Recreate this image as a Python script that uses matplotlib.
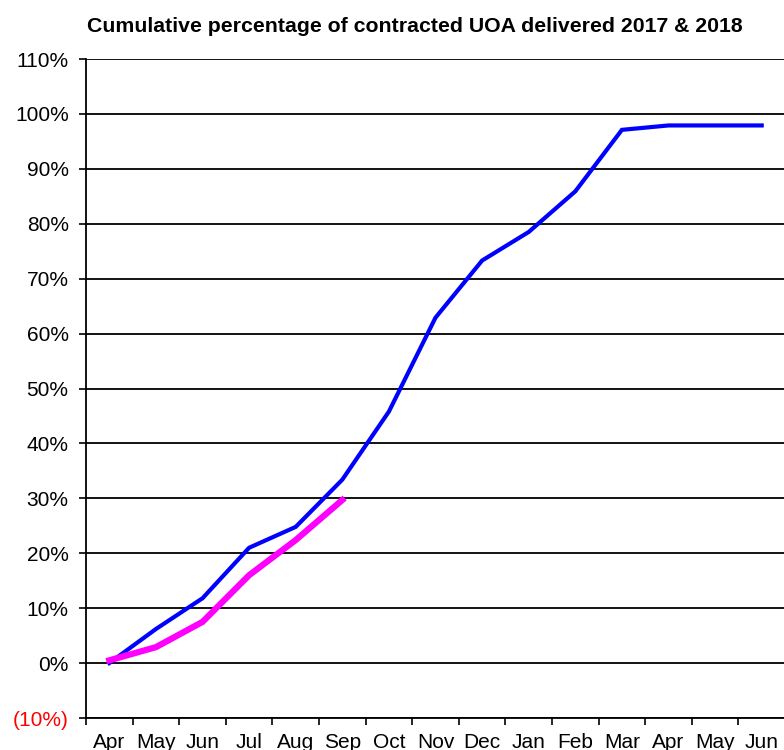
import matplotlib
matplotlib.use("Agg")
import matplotlib.pyplot as plt
from matplotlib.transforms import ScaledTranslation

plt.rcParams['font.family'] = ['Liberation Sans', 'DejaVu Sans']

months = ["Apr", "May", "Jun", "Jul", "Aug", "Sep", "Oct", "Nov", "Dec",
          "Jan", "Feb", "Mar", "Apr", "May", "Jun"]
cum_2017 = [0.0, 6.2, 11.8, 21.0, 24.8, 33.4, 45.8, 62.9, 73.3, 78.5,
            85.9, 97.1, 97.9, 97.9, 97.9]
cum_2018 = [0.5, 2.9, 7.5, 16.0, 22.4, 29.7]
yticks = list(range(-10, 111, 10))

W, H = 784, 750
fig = plt.figure(figsize=(W / 100, H / 100), dpi=100)
ax = fig.add_axes([86 / W, (H - 718) / H, (785 - 86) / W, (718 - 59) / H])

x17 = list(range(len(cum_2017)))
x18 = list(range(len(cum_2018)))
ax.plot(x17, cum_2017, color="#0000ff", lw=3.0, solid_joinstyle="miter", zorder=3)
ax.plot(x18, cum_2018, color="#ff00ff", lw=4.5, solid_joinstyle="miter", zorder=4)

ax.set_xlim(-0.5, len(months) - 0.5)
ax.set_ylim(-10, 110)
ax.set_yticks(yticks)
ax.set_yticklabels([f"({abs(v)}%)" if v < 0 else f"{v}%" for v in yticks])
for lbl, v in zip(ax.get_yticklabels(), yticks):
    if v < 0:
        lbl.set_color("red")
        lbl.set_transform(lbl.get_transform() + ScaledTranslation(-5 / 100, 0, fig.dpi_scale_trans))

ax.set_xticks(x17)
ax.set_xticklabels(months)
ax.set_xticks([i - 0.5 for i in range(len(months) + 1)], minor=True)
ax.tick_params(axis="x", which="major", length=0, pad=11, labelsize=15)
ax.tick_params(axis="x", which="minor", length=5, width=1.2, direction="out")
ax.tick_params(axis="y", which="major", length=5, width=1.2, direction="out", pad=7.5, labelsize=15)

ax.grid(axis="y", color="black", lw=1.3, zorder=1)
ax.set_axisbelow(True)
for s in ["top", "right"]:
    ax.spines[s].set_visible(False)
ax.spines["left"].set_linewidth(1.3)
ax.spines["bottom"].set_linewidth(1.3)

fig.text(415 / W, 1 - 26 / H, "Cumulative percentage of contracted UOA delivered 2017 & 2018",
         ha="center", va="center", fontsize=15.3, fontweight="bold")

fig.savefig("out.png", dpi=100)
